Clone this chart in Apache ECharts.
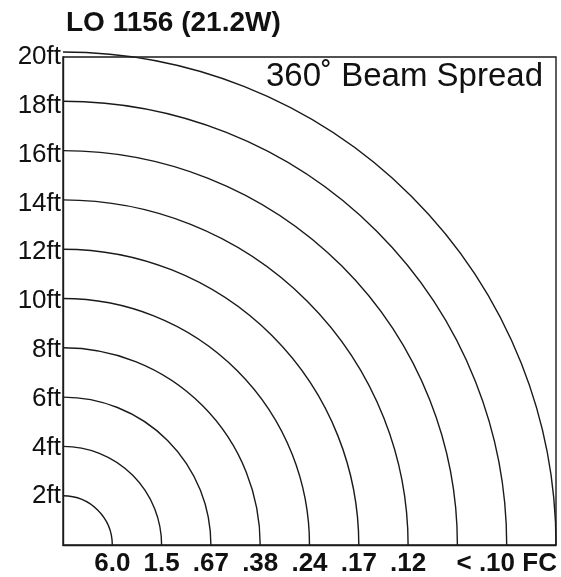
<!DOCTYPE html>
<html>
<head>
<meta charset="utf-8">
<script src="https://cdn.jsdelivr.net/npm/echarts@6/dist/echarts.min.js"></script>
<style>
  html, body { margin: 0; padding: 0; background: #fff; }
  #chart { width: 561px; height: 577px; }
</style>
</head>
<body>
<div id="chart"></div>
<script>
// beam spread rings (distance in ft) and foot-candle readings on the floor
const radii = [2, 4, 6, 8, 10, 12, 14, 16, 18, 20]
const heightTicks = [2, 4, 6, 8, 10, 12, 14, 16, 18, 20]
const fcTicks = [2, 4, 6, 8, 10, 12, 14, 18]
const fcLabels = ['6.0', '1.5', '.67', '.38', '.24', '.17', '.12', '< .10 FC']

const myChart = echarts.init(document.getElementById('chart'))
const font = 'Liberation Sans, Arial, Helvetica, sans-serif'

const option = {
  animation: false,
  backgroundColor: '#fff',
  title: {
    text: 'LO 1156 (21.2W)',
    left: 61,
    top: 4,
    textStyle: { fontFamily: font, fontSize: 28, fontWeight: 'bold', color: '#111' }
  },
  graphic: [{
    type: 'text',
    right: 18,
    top: 60,
    style: { text: '360˚ Beam Spread', font: '33px ' + font, fill: '#111' }
  }],
  grid: {
    left: 63, right: 5, top: 57, bottom: 30,
    show: true, borderColor: '#1a1a1a', borderWidth: 1.4
  },
  xAxis: {
    type: 'value', min: 0, max: 20, interval: 2,
    axisLine: { show: true, lineStyle: { color: '#1a1a1a', width: 1.4 } },
    axisTick: { show: false },
    splitLine: { show: false },
    axisLabel: {
      margin: 6,
      fontFamily: font, fontSize: 26, fontWeight: 'bold', color: '#111',
      formatter: function(v) {
        const i = fcTicks.indexOf(v)
        return i >= 0 ? fcLabels[i] : ''
      }
    }
  },
  yAxis: {
    type: 'value', min: 0, max: 20, interval: 2,
    axisLine: { show: true, lineStyle: { color: '#1a1a1a', width: 1.4 } },
    axisTick: { show: false },
    splitLine: { show: false },
    axisLabel: {
      margin: 2,
      fontFamily: font, fontSize: 26, color: '#111',
      formatter: function(v) {
        return heightTicks.indexOf(v) >= 0 ? v + 'ft' : ''
      }
    }
  },
  series: [{
    type: 'custom',
    data: radii.map(r => [r]),
    clip: false,
    renderItem: function(params, api) {
      const c = api.coord([0, 0])
      const r = api.size([api.value(0), 0])[0]
      return {
        type: 'arc',
        shape: { cx: c[0], cy: c[1], r: r, startAngle: -Math.PI / 2, endAngle: 0, clockwise: true },
        style: { fill: null, stroke: '#1a1a1a', lineWidth: 1.4 }
      }
    }
  }]
}
myChart.setOption(option)
window.addEventListener('resize', function() {
  myChart.resize()
})
</script>
</body>
</html>
